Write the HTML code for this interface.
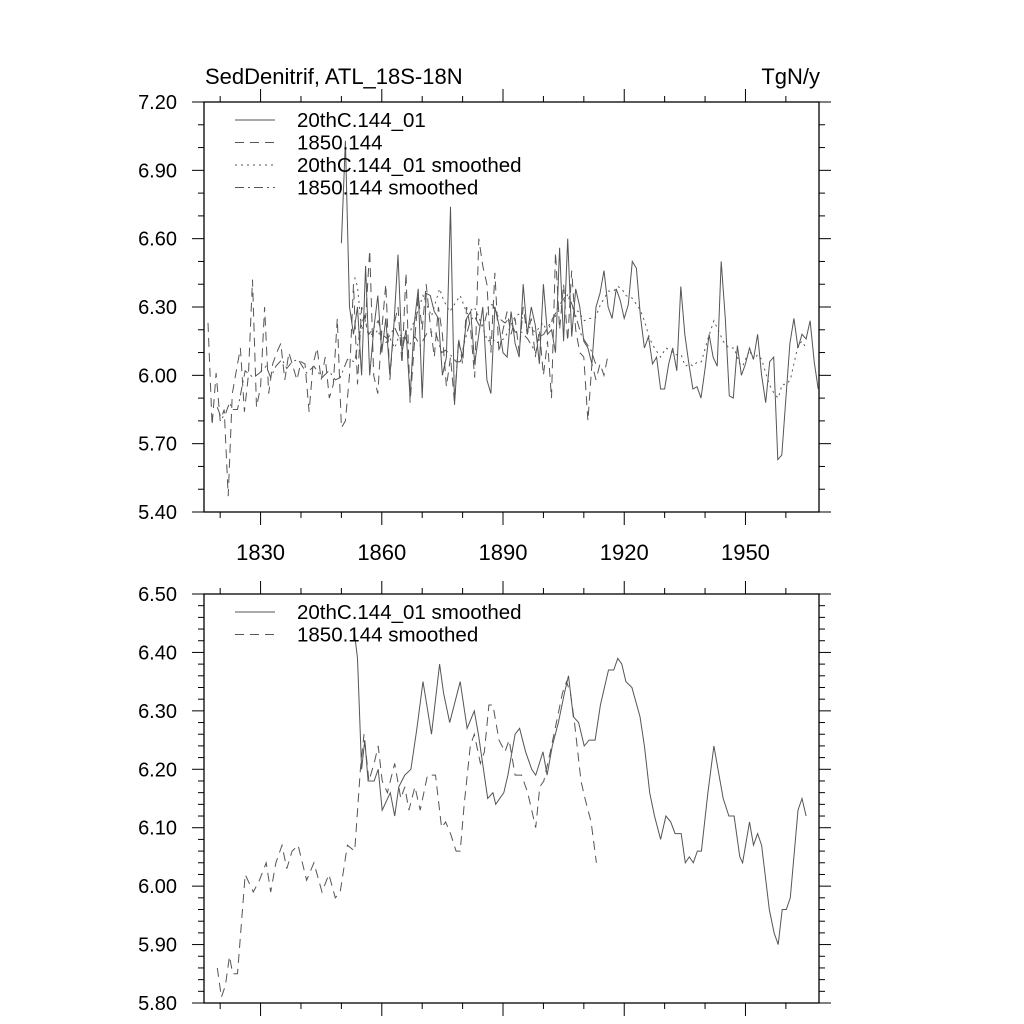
<!DOCTYPE html>
<html><head><meta charset="utf-8"><style>
html,body{margin:0;padding:0;background:#fff;}
svg{display:block;font-family:"Liberation Sans",sans-serif;}
</style></head><body>
<svg id="c" width="1024" height="1024" viewBox="0 0 1024 1024"></svg>
<script>
// ---------- data ----------
const xTickYears = [1830, 1860, 1890, 1920, 1950];
const xMinorYears = [1820,1830,1840,1850,1860,1870,1880,1890,1900,1910,1920,1930,1940,1950,1960];
const topYTicks = [5.40, 5.70, 6.00, 6.30, 6.60, 6.90, 7.20];
const botYTicks = [5.80, 5.90, 6.00, 6.10, 6.20, 6.30, 6.40, 6.50];

const ctrlStart = 1817;
const ctrlRaw = [6.23,5.78,6.01,5.80,5.85,5.47,5.92,6.02,6.12,5.84,6.00,6.42,5.86,5.95,6.30,5.92,6.05,6.10,6.14,5.98,
6.10,6.04,5.98,6.06,6.05,5.84,6.05,6.12,5.98,6.08,5.90,5.96,6.25,5.77,5.80,6.00,6.40,5.96,6.30,6.25,
6.55,6.00,5.92,6.20,6.40,5.98,6.22,6.30,6.05,6.45,5.88,6.12,6.35,6.20,6.40,6.22,6.08,6.30,6.18,5.95,
6.08,5.88,6.16,6.05,6.30,6.20,5.99,6.60,6.48,6.40,6.10,6.45,6.10,6.20,6.28,6.18,6.25,6.10,6.30,6.18,
6.25,6.08,6.20,6.00,6.15,5.90,6.54,6.20,6.40,6.15,6.46,6.20,6.10,6.08,5.80,6.05,5.98,6.05,6.00,6.09];

const histStart = 1850;
const histRaw = [6.58,7.03,6.30,6.18,6.30,6.00,6.48,6.00,6.20,6.35,
6.10,6.25,6.00,6.22,6.53,6.10,6.20,5.90,6.22,6.38,
5.90,6.36,6.35,6.28,6.25,6.00,6.08,6.74,5.87,6.15,
6.08,6.25,6.28,6.05,6.18,6.30,5.98,5.92,6.30,6.22,
6.10,6.08,6.28,6.14,6.08,6.40,6.18,6.30,6.22,6.05,
6.40,6.18,6.20,6.10,6.56,6.15,6.60,6.17,6.38,6.30,
6.15,6.12,6.05,6.30,6.36,6.46,6.30,6.25,6.38,6.33,
6.25,6.31,6.50,6.47,6.26,6.12,6.17,6.05,6.08,5.94,
5.94,6.05,6.12,6.02,6.39,6.18,6.05,5.94,5.95,5.90,
6.03,6.18,6.08,6.04,6.50,6.25,5.91,5.90,6.13,6.00,
6.05,6.12,6.07,6.18,6.00,5.88,6.06,6.08,
5.63,5.65,5.90,6.14,6.25,6.12,6.18,6.16,6.24,6.06,5.94];

const ctrlSmYears = [1819.3,1820.3,1821.3,1822.3,1823.1,1824.3,1826.2,1828.2,1829.7,1831.4,1832.5,1833.8,1835.3,1836.5,1837.8,1839.3,1841.4,1843.2,1845.2,1846.9,1848.5,1849.7,1851.5,1853.3,1854.7,1855.6,1856.8,1858.1,1859.1,1860.1,1861.4,1863.2,1864.7,1865.7,1866.7,1868.2,1869.5,1871.3,1873.3,1874.8,1875.8,1877.0,1878.4,1879.4,1880.4,1881.9,1882.9,1884.4,1885.4,1886.5,1887.5,1889.0,1890.5,1891.5,1893.0,1894.6,1896.1,1898.1,1899.1,1900.1,1901.7,1903.2,1904.7,1905.7,1906.7,1907.7,1909.3,1910.3,1911.8,1913.1];
const ctrlSmVals = [5.86,5.81,5.83,5.88,5.85,5.85,6.02,5.99,6.01,6.04,5.99,6.04,6.07,6.03,6.06,6.07,6.01,6.04,5.99,6.02,5.98,5.99,6.07,6.06,6.20,6.26,6.18,6.21,6.24,6.18,6.16,6.21,6.15,6.17,6.13,6.17,6.13,6.19,6.19,6.10,6.11,6.09,6.06,6.06,6.14,6.24,6.26,6.21,6.23,6.31,6.31,6.25,6.23,6.25,6.19,6.19,6.16,6.10,6.17,6.18,6.23,6.28,6.33,6.35,6.33,6.28,6.18,6.15,6.11,6.04];

const histSmYears = [1853.3,1854.0,1855.0,1855.8,1856.6,1858.1,1859.1,1860.1,1862.1,1863.2,1864.2,1865.7,1867.2,1868.7,1870.2,1872.3,1874.3,1875.3,1876.8,1879.4,1881.1,1882.9,1883.9,1886.2,1887.5,1888.2,1890.2,1891.2,1893.0,1894.1,1895.6,1897.1,1898.1,1899.9,1900.9,1902.2,1903.7,1905.2,1906.2,1907.4,1908.7,1910.1,1911.3,1912.8,1914.1,1916.1,1917.4,1918.4,1919.4,1920.4,1921.9,1923.9,1925.0,1926.3,1927.5,1929.0,1930.3,1931.5,1932.6,1934.1,1935.1,1936.1,1937.1,1938.1,1939.1,1940.7,1942.2,1943.2,1944.5,1945.9,1947.2,1948.6,1949.3,1951.0,1952.0,1953.0,1954.0,1955.9,1957.1,1958.1,1959.1,1960.1,1961.1,1963.0,1964.0,1965.0];
const histSmVals = [6.43,6.39,6.20,6.25,6.18,6.18,6.20,6.13,6.16,6.12,6.17,6.19,6.20,6.27,6.35,6.26,6.38,6.33,6.28,6.35,6.27,6.30,6.26,6.15,6.16,6.14,6.16,6.19,6.26,6.27,6.23,6.20,6.19,6.23,6.19,6.24,6.28,6.33,6.36,6.29,6.28,6.24,6.25,6.25,6.31,6.37,6.37,6.39,6.38,6.35,6.34,6.29,6.24,6.16,6.12,6.08,6.12,6.11,6.09,6.09,6.04,6.05,6.04,6.06,6.06,6.16,6.24,6.20,6.15,6.12,6.12,6.05,6.04,6.11,6.07,6.09,6.07,5.96,5.92,5.90,5.96,5.96,5.98,6.13,6.15,6.12];

// ---------- layout ----------
const NS = "http://www.w3.org/2000/svg";
const svgEl = document.getElementById('c');
const L = 204, R = 819, XMIN = 1816, XMAX = 1968.2;
function xs(v){ return L + (v - XMIN) / (XMAX - XMIN) * (R - L); }
function mk(tag, attrs, parent){ const e = document.createElementNS(NS, tag); for (const k in attrs) e.setAttribute(k, attrs[k]); (parent||svgEl).appendChild(e); return e; }
const COL = "#555";
const DASH = "9,6", DOT = "2,4", DASHDOT = "9,4,2,4";

function panel(name, T, B, ymin, ymax, majors, minorStep, fmt, showXLabels){
  const g = mk('g', {});
  
  
  const ys = v => B - (v - ymin) / (ymax - ymin) * (B - T);
  const fr = mk('rect', {x:L, y:T, width:R-L, height:B-T, fill:'none', stroke:'#000', 'stroke-width':1.3}, g);
  
  
  const nMin = Math.round((ymax - ymin) / minorStep);
  for (let i = 0; i <= nMin; i++){
    const v = ymin + i * minorStep, y = ys(v);
    const isMaj = majors.some(m => Math.abs(m - v) < 1e-6);
    const len = isMaj ? 12 : 6;
    mk('line', {x1:L-len, x2:L, y1:y, y2:y, stroke:'#000', 'stroke-width':1}, g);
    mk('line', {x1:R, x2:R+len, y1:y, y2:y, stroke:'#000', 'stroke-width':1}, g);
  }
  majors.forEach(v => {
    const t = mk('text', {x:177, y:ys(v)+7, 'text-anchor':'end', 'font-size':20, fill:'#000'}, g);
    
    
    t.textContent = fmt(v);
  });
  xMinorYears.forEach(yr => {
    const x = xs(yr), isMaj = xTickYears.includes(yr), len = isMaj ? 13 : 6;
    mk('line', {x1:x, x2:x, y1:B, y2:B+len, stroke:'#000', 'stroke-width':1}, g);
    mk('line', {x1:x, x2:x, y1:T-len, y2:T, stroke:'#000', 'stroke-width':1}, g);
  });
  if (showXLabels) xTickYears.forEach(yr => {
    const t = mk('text', {x:xs(yr), y:B+48, 'text-anchor':'middle', 'font-size':22, fill:'#000'}, g);
    
    
    t.textContent = yr;
  });
  return {g, ys};
}
function drawLine(g, ys, xsArr, vals, dash, name){
  const d = vals.map((v,i) => (i ? 'L' : 'M') + xs(xsArr[i]).toFixed(1) + ',' + ys(v).toFixed(1)).join('');
  const p = mk('path', {d, fill:'none', stroke:COL, 'stroke-width':1}, g);
  if (dash) p.setAttribute('stroke-dasharray', dash);
  
  
}
function legend(g, y0, items){
  items.forEach((it, i) => {
    const y = y0 + i * 22.5;
    const l = mk('line', {x1:235, x2:275, y1:y, y2:y, stroke:COL, 'stroke-width':1}, g);
    if (it[1]) l.setAttribute('stroke-dasharray', it[1]);
    
    
    const t = mk('text', {x:297, y:y+7, 'font-size':20.5, fill:'#000'}, g);
    
    
    t.textContent = it[0];
  });
}
const seq = (start, n) => Array.from({length:n}, (_, i) => start + i);

const topP = panel('top-panel', 102, 512, 5.4, 7.2, topYTicks, 0.1, v => v.toFixed(2), true);
drawLine(topP.g, topP.ys, seq(ctrlStart, ctrlRaw.length), ctrlRaw, DASH, 'series-1850-raw');
drawLine(topP.g, topP.ys, seq(histStart, histRaw.length), histRaw, null, 'series-20thc-raw');
drawLine(topP.g, topP.ys, histSmYears, histSmVals, DOT, 'series-20thc-smoothed');
drawLine(topP.g, topP.ys, ctrlSmYears, ctrlSmVals, DASHDOT, 'series-1850-smoothed');
legend(topP.g, 120, [['20thC.144_01', null], ['1850.144', DASH], ['20thC.144_01 smoothed', DOT], ['1850.144 smoothed', DASHDOT]]);
const t1 = mk('text', {x:205, y:84, 'font-size':22, fill:'#000'});


t1.textContent = 'SedDenitrif, ATL_18S-18N';
const t2 = mk('text', {x:820, y:84, 'font-size':22, 'text-anchor':'end', fill:'#000'});


t2.textContent = 'TgN/y';

const botP = panel('bottom-panel', 594, 1003, 5.8, 6.5, botYTicks, 0.02, v => v.toFixed(2), false);
drawLine(botP.g, botP.ys, histSmYears, histSmVals, null, 'series-20thc-smoothed-bottom');
drawLine(botP.g, botP.ys, ctrlSmYears, ctrlSmVals, DASH, 'series-1850-smoothed-bottom');
legend(botP.g, 612, [['20thC.144_01 smoothed', null], ['1850.144 smoothed', DASH]]);
</script>
</body></html>
